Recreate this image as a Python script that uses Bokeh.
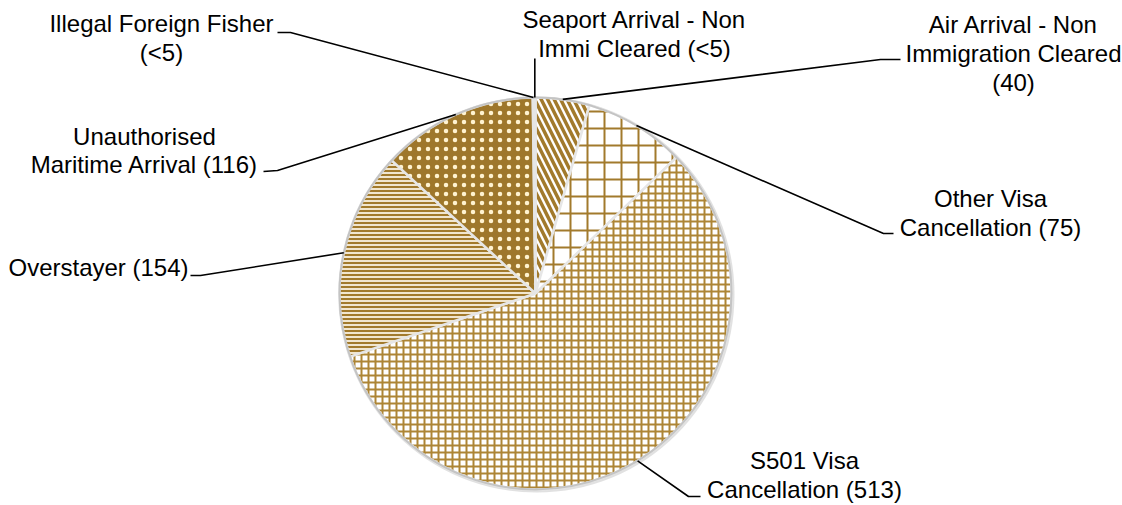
import math
from bokeh.plotting import figure
from bokeh.models import Range1d, ColumnDataSource
from bokeh.core.properties import value
from bokeh.embed import file_html
from bokeh.resources import INLINE

# ---------------- data ----------------
categories = [
    "Air Arrival - Non Immigration Cleared",
    "Other Visa Cancellation",
    "S501 Visa Cancellation",
    "Overstayer",
    "Unauthorised Maritime Arrival",
    "Illegal Foreign Fisher",
    "Seaport Arrival - Non Immi Cleared",
]
values = [40, 75, 513, 154, 116, 1, 1]
value_labels = ["40", "75", "513", "154", "116", "<5", "<5"]

# ---------------- layout / style ----------------
W, H = 1122, 505
CX, CY_S, R = 535, 293, 196           # pie centre (screen y) and radius
TEXT_SHIFT = -9
def sy(y):                             # screen y -> data y
    return H - y

words_per_line = [[4, 2, 1], [2, 2], [2, 2], [2], [1, 3], [3, 1], [4, 3]]
# label x, first baseline (screen), line height, align
label_pos = [
    (1013, 33, 29, "center"),
    (990, 207, 29, "center"),
    (804, 469, 29, "center"),
    (8, 276, 29, "left"),
    (144, 145, 28, "center"),
    (161, 32, 29, "center"),
    (634, 28, 29, "center"),
]
# leader: label-side point, elbow point (screen coords)
stubs = [
    ((900, 59), (880, 59)),
    ((893, 233), (883, 233)),
    ((700, 496), (688, 496)),
    ((190, 275), (200, 275)),
    ((263, 171), (277, 170)),
    ((277, 32), (290, 32)),
    (None, None),
]
GOLD = "#A27A2C"
fills = ["#FFFFFF", "#FFFFFF", "#FFFFFF", "#F1E6CF", "#9E772B", "#4A4A4A", "#4A4A4A"]
hatches = ["left_diagonal_line", "cross", "cross", "horizontal_line", "dot", " ", " "]
hcolors = [GOLD, GOLD, "#AD8535", "#A27A2C", "#FFF3D0", GOLD, GOLD]
hscales = [13, 17, 7, 4, 9, 1, 1]
hweights = [3.5, 2, 2, 2, 0.9, 1, 1]

total = sum(values)
starts, ends, mids = [], [], []
acc = 0.0
for v in values:
    a0 = math.pi / 2 - 2 * math.pi * acc / total
    acc += v
    a1 = math.pi / 2 - 2 * math.pi * acc / total
    starts.append(a0)
    ends.append(a1)
    mids.append((a0 + a1) / 2)

src = ColumnDataSource(dict(
    cat=categories, val=values, start=starts, end=ends,
    fill=fills, hatch=hatches, hcolor=hcolors, hscale=hscales, hweight=hweights,
))

p = figure(width=W, height=H, x_range=Range1d(0, W), y_range=Range1d(0, H),
           output_backend="svg", toolbar_location=None,
           x_axis_location=None, y_axis_location=None,
           min_border=0, outline_line_color=None)
p.grid.visible = False
p.background_fill_color = "white"

cy = sy(CY_S)
# soft rim shadow
p.circle(x=[CX + 1], y=[cy - 1], radius=R + 2, fill_color="#D4D4D4",
         fill_alpha=0.7, line_color=None)

p.wedge(x=CX, y=cy, radius=R, start_angle="start", end_angle="end",
        direction="clock", source=src, fill_color="fill",
        hatch_pattern="hatch", hatch_color="hcolor", hatch_scale="hscale",
        hatch_weight="hweight", line_color="#E6E6E6", line_width=2.5)
p.circle(x=[CX], y=[cy], radius=R, fill_color=None, line_color="#C4C4C4", line_width=2)

# leader lines
xs, ys = [], []
for i, m in enumerate(mids):
    rx = CX + R * math.cos(m)
    ry = cy + R * math.sin(m)
    s0, s1 = stubs[i]
    if s0 is None:
        xs.append([rx, rx])
        ys.append([sy(58), ry])
    else:
        xs.append([s0[0], s1[0], rx])
        ys.append([sy(s0[1]), sy(s1[1]), ry])
p.multi_line(xs=xs, ys=ys, line_color="black", line_width=1.6)

# labels
for i, cat in enumerate(categories):
    words = (cat + " (" + value_labels[i] + ")").split(" ")
    lines, k = [], 0
    for n in words_per_line[i]:
        lines.append(" ".join(words[k:k + n]))
        k += n
    x0, y0, lh, align = label_pos[i]
    p.text(x=[x0] * len(lines),
           y=[sy(y0 + TEXT_SHIFT + j * lh) for j in range(len(lines))],
           text=lines, text_align=align, text_baseline="alphabetic",
           text_font=value("Liberation Sans"), text_font_size="24px",
           text_color="black")

open("out.html", "w").write(file_html(p, INLINE))
